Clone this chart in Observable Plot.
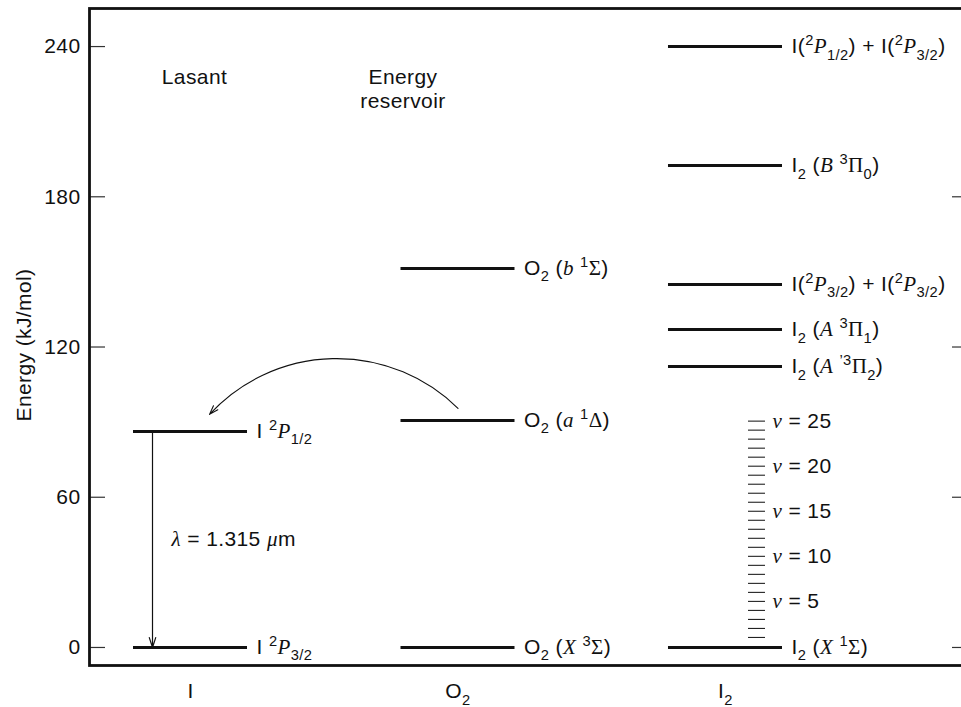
<!DOCTYPE html>
<html>
<head>
<meta charset="utf-8">
<script src="https://cdn.jsdelivr.net/npm/d3@7"></script>
<script src="https://cdn.jsdelivr.net/npm/@observablehq/plot@0.6"></script>
<style>
html, body { margin: 0; padding: 0; background: #fff; }
#chart { width: 961px; height: 707px; overflow: hidden; }
#chart text { letter-spacing: 0.4px; }
</style>
</head>
<body>
<div id="chart"></div>
<script>
// ---------------- data ----------------
// columns (species) shown along the x axis
const columnNames = ["I", "O2", "I2"];
const columnLabels = ["I", "O_{2}", "I_{2}"];
const columnTitles = ["Lasant", "Energy\nreservoir", ""];

// electronic levels
const levelSpecies = ["I", "I", "O2", "O2", "O2", "I2", "I2", "I2", "I2", "I2", "I2"];
const levelEnergy  = [86.3, 0, 151.4, 90.7, 0, 240, 192.5, 145, 127, 112.2, 0];
const levelLabel   = [
  "I ^{2}*P*_{1/2}",
  "I ^{2}*P*_{3/2}",
  "O_{2} (*b* ^{1}Σ)",
  "O_{2} (*a* ^{1}Δ)",
  "O_{2} (*X* ^{3}Σ)",
  "I(^{2}*P*_{1/2}) + I(^{2}*P*_{3/2})",
  "I_{2} (*B* ^{3}Π_{0})",
  "I(^{2}*P*_{3/2}) + I(^{2}*P*_{3/2})",
  "I_{2} (*A* ^{3}Π_{1})",
  "I_{2} (*A* ^{’3}Π_{2})",
  "I_{2} (*X* ^{1}Σ)"
];

// I2 ground-state vibrational levels
const vibQuantum = [1, 2, 3, 4, 5, 6, 7, 8, 9, 10, 11, 12, 13, 14, 15, 16, 17, 18, 19, 20, 21, 22, 23, 24, 25];
const vibEnergy  = [4.0, 7.6, 11.2, 14.8, 18.4, 22.0, 25.6, 29.2, 32.8, 36.4, 40.0, 43.6, 47.2,
                    50.8, 54.4, 58.0, 61.6, 65.2, 68.8, 72.4, 76.0, 79.6, 83.2, 86.8, 90.4];
const vibLabeled = [5, 10, 15, 20, 25];

// axis ticks
const yTicks = [0, 60, 120, 180, 240];
const yTicksRight = [0, 60, 120, 180];
const yLabel = "Energy (kJ/mol)";

// laser transition label
const laserLabel = "*λ* = 1.315 *μ*m";

// ---------------- layout ----------------
const W = 961, H = 707, mL = 89, mR = -5, mT = 8, mB = 42;
const xDomain = [0.6224, 3.901];
const yDomain = [-7.2, 255.2];
const pxPerX = (W - mR - mL) / (xDomain[1] - xDomain[0]);
const pxPerY = (H - mB - mT) / (yDomain[1] - yDomain[0]);
const dX = p => p / pxPerX;
const dY = p => p / pxPerY;
const halfW = dX(57);
const colOf = s => columnNames.indexOf(s) + 1;

const levels = levelEnergy.map((e, i) => ({col: colOf(levelSpecies[i]), energy: e, label: levelLabel[i]}));
const findLevel = (sp, i) => levels.filter(d => d.col === colOf(sp))[i];
const iUpper = findLevel("I", 0), iLower = findLevel("I", 1), o2a = findLevel("O2", 1);
const vib = vibQuantum.map((v, i) => ({v, energy: vibEnergy[i]}));
const vibLab = vib.filter(d => vibLabeled.includes(d.v));
const titles = columnTitles.map((t, i) => ({t, col: i + 1})).filter(d => d.t);

const ink = "#111";

const chart = Plot.plot({
  width: W, height: H,
  marginLeft: mL, marginRight: mR, marginTop: mT, marginBottom: mB,
  style: {fontSize: "21px", fontFamily: "'Liberation Sans', Arial, Helvetica, sans-serif", overflow: "hidden", background: "#fff", color: ink},
  x: {domain: xDomain},
  y: {domain: yDomain},
  marks: [
    // tick marks inside the frame
    Plot.ruleY(yTicks, {x1: xDomain[0], x2: xDomain[0] + dX(16), stroke: "#333", strokeWidth: 1.2}),
    Plot.ruleY(yTicksRight, {x1: xDomain[1] - dX(14), x2: xDomain[1], stroke: "#333", strokeWidth: 1.2}),
    Plot.axisY({ticks: yTicks, tickSize: 0, tickPadding: 9, label: null, fill: ink}),
    Plot.axisX({ticks: [1, 2, 3], tickFormat: i => columnLabels[i - 1], tickSize: 0, tickPadding: 18, label: null, fill: ink}),
    Plot.text([yLabel], {frameAnchor: "left", textAnchor: "middle", rotate: -90, dx: -65, dy: 8, fill: ink}),
    // column titles
    Plot.text(titles.filter(d => d.col === 1), {x: "col", text: "t", frameAnchor: "top", lineAnchor: "top", dy: 58, dx: 4, lineHeight: 1.2, fill: ink}),
    Plot.text(titles.filter(d => d.col === 2), {x: "col", text: "t", frameAnchor: "top", lineAnchor: "top", dy: 58, dx: -55, lineHeight: 1.15, fill: ink}),
    // energy levels
    Plot.ruleY(levels, {y: "energy", x1: d => d.col - halfW, x2: d => d.col + halfW, stroke: ink, strokeWidth: 3}),
    Plot.text(levels, {x: "col", y: "energy", text: "label", textAnchor: "start", dx: 66, fill: ink}),
    // vibrational ladder
    Plot.ruleY(vib, {y: "energy", x1: 3 + dX(23), x2: 3 + dX(40), stroke: "#222", strokeWidth: 1.1}),
    Plot.text(vibLab, {x: 3, y: "energy", text: d => "*v* = " + d.v, textAnchor: "start", dx: 47, fill: ink}),
    // laser transition
    Plot.arrow([{a: iUpper, b: iLower}], {x1: d => d.a.col - dX(38), x2: d => d.b.col - dX(38), y1: d => d.a.energy, y2: d => d.b.energy,
      stroke: ink, strokeWidth: 1.2, headLength: 13, headAngle: 36}),
    Plot.text([laserLabel], {x: iUpper.col, y: (iUpper.energy + iLower.energy) / 2, textAnchor: "start", dx: -19, fill: ink}),
    // energy transfer O2(a) -> I
    Plot.arrow([{a: o2a, b: iUpper}], {x1: d => d.a.col, y1: d => d.a.energy + dY(12), x2: d => d.b.col + dX(19), y2: d => d.b.energy + dY(17),
      bend: -46, stroke: ink, strokeWidth: 1.1, headLength: 13, headAngle: 36}),
    // frame
    Plot.frame({stroke: ink, strokeWidth: 2.8})
  ]
});

document.getElementById("chart").appendChild(chart);

// ---------- rich text: sub/superscripts, italics, Greek ----------
const SERIF = "'Liberation Serif', 'Times New Roman', serif";
function parseMarkup(s) {
  const segs = [];
  let buf = "", italic = false, i = 0;
  const push = (text, pos, it) => { if (text) segs.push({text, pos, italic: it}); };
  while (i < s.length) {
    const c = s[i];
    if (c === "*") { push(buf, 0, italic); buf = ""; italic = !italic; i++; continue; }
    if ((c === "_" || c === "^") && s[i + 1] === "{") {
      push(buf, 0, italic); buf = "";
      const end = s.indexOf("}", i + 2);
      push(s.slice(i + 2, end), c === "_" ? 1 : -1, false);
      i = end + 1; continue;
    }
    buf += c; i++;
  }
  push(buf, 0, italic);
  const out = [];
  for (const sg of segs) {
    const parts = sg.text.split(/([ΣΠΔ])/).filter(p => p);
    for (const p of parts) out.push({...sg, text: p, greek: /[ΣΠΔ]/.test(p)});
  }
  return out;
}
const NS = "http://www.w3.org/2000/svg";
chart.querySelectorAll("text").forEach(t => {
  if (t.querySelector("tspan")) return;
  const s = t.textContent;
  if (!/[*_^ΣΠΔ]/.test(s)) return;
  const fs = parseFloat(getComputedStyle(t).fontSize) || 21;
  t.textContent = "";
  t.style.whiteSpace = "pre";
  let cur = 0;
  for (const sg of parseMarkup(s)) {
    const ts = document.createElementNS(NS, "tspan");
    const shift = sg.pos === 1 ? 0.3 * fs : sg.pos === -1 ? -0.38 * fs : 0;
    if (shift !== cur) ts.setAttribute("dy", (shift - cur).toFixed(2));
    cur = shift;
    if (sg.pos !== 0) ts.setAttribute("font-size", (0.7 * fs).toFixed(1));
    if (sg.italic) { ts.setAttribute("font-style", "italic"); ts.setAttribute("font-family", SERIF); }
    if (sg.greek) ts.setAttribute("font-family", SERIF);
    ts.textContent = sg.text;
    t.appendChild(ts);
  }
});
</script>
</body>
</html>
